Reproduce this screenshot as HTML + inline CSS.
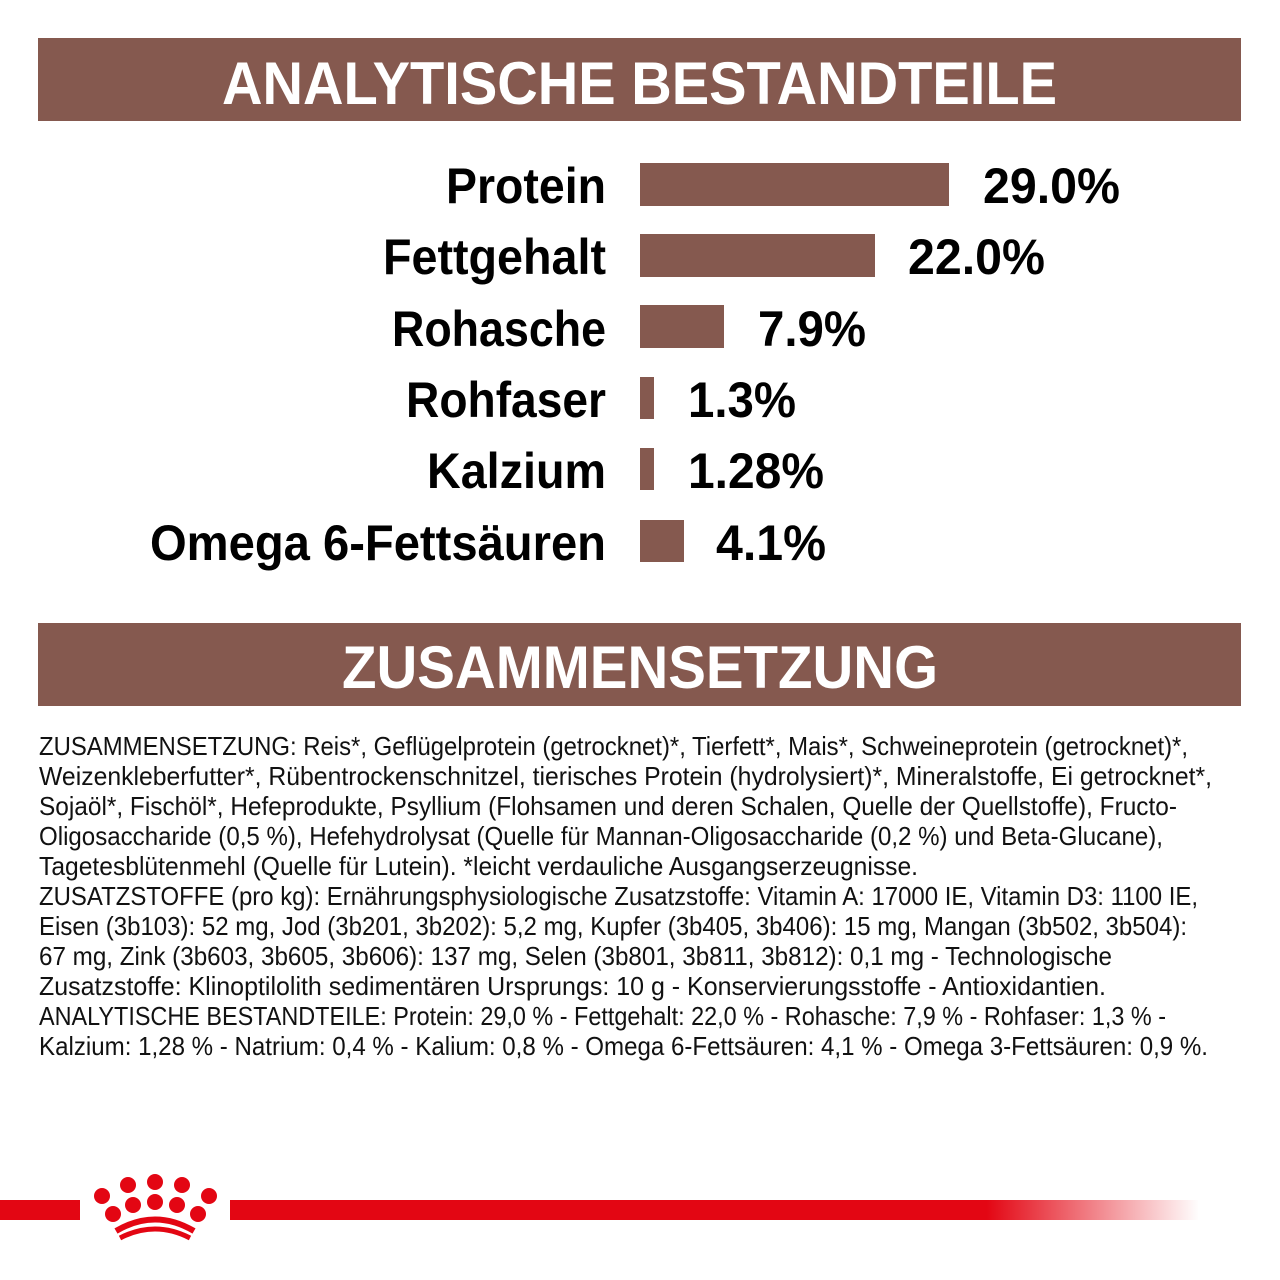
<!DOCTYPE html>
<html><head><meta charset="utf-8"><style>html,body{margin:0;padding:0;background:#fff}svg{display:block}</style></head>
<body>
<svg width="1280" height="1280" viewBox="0 0 1280 1280" xmlns="http://www.w3.org/2000/svg" font-family="Liberation Sans, sans-serif">
<defs><linearGradient id="g" x1="0" x2="1"><stop offset="0" stop-color="#e30613"/><stop offset="0.78" stop-color="#e30613"/><stop offset="1" stop-color="#e30613" stop-opacity="0"/></linearGradient></defs>
<rect x="38" y="38" width="1203" height="83" fill="#85594f"/>
<text x="222" y="104" textLength="835" lengthAdjust="spacingAndGlyphs" font-size="60" font-weight="bold" fill="#fff">ANALYTISCHE BESTANDTEILE</text>
<g fill="#85594f">
<rect x="640" y="163" width="309" height="43"/>
<rect x="640" y="234" width="235" height="43"/>
<rect x="640" y="305" width="84" height="43"/>
<rect x="640" y="377" width="14" height="42"/>
<rect x="640" y="448" width="14" height="42"/>
<rect x="640" y="520" width="44" height="42"/>
</g>
<g font-size="50" font-weight="bold" fill="#000" text-anchor="end">
<text x="606" y="203" textLength="160" lengthAdjust="spacingAndGlyphs">Protein</text>
<text x="606" y="274" textLength="223" lengthAdjust="spacingAndGlyphs">Fettgehalt</text>
<text x="606" y="346" textLength="214" lengthAdjust="spacingAndGlyphs">Rohasche</text>
<text x="606" y="417" textLength="200" lengthAdjust="spacingAndGlyphs">Rohfaser</text>
<text x="606" y="488" textLength="179" lengthAdjust="spacingAndGlyphs">Kalzium</text>
<text x="606" y="560" textLength="456" lengthAdjust="spacingAndGlyphs">Omega 6-Fettsäuren</text>
</g>
<g font-size="50" font-weight="bold" fill="#000">
<text x="983" y="203" textLength="137" lengthAdjust="spacingAndGlyphs">29.0%</text>
<text x="908" y="274" textLength="137" lengthAdjust="spacingAndGlyphs">22.0%</text>
<text x="758" y="346" textLength="108" lengthAdjust="spacingAndGlyphs">7.9%</text>
<text x="688" y="417" textLength="108" lengthAdjust="spacingAndGlyphs">1.3%</text>
<text x="688" y="488" textLength="136" lengthAdjust="spacingAndGlyphs">1.28%</text>
<text x="716" y="560" textLength="110" lengthAdjust="spacingAndGlyphs">4.1%</text>
</g>
<rect x="38" y="623" width="1203" height="83" fill="#85594f"/>
<text x="342" y="688" textLength="596" lengthAdjust="spacingAndGlyphs" font-size="60" font-weight="bold" fill="#fff">ZUSAMMENSETZUNG</text>
<g font-size="26" fill="#111">
<text x="39" y="755" textLength="1149" lengthAdjust="spacingAndGlyphs">ZUSAMMENSETZUNG: Reis*, Geflügelprotein (getrocknet)*, Tierfett*, Mais*, Schweineprotein (getrocknet)*,</text>
<text x="39" y="785" textLength="1173" lengthAdjust="spacingAndGlyphs">Weizenkleberfutter*, Rübentrockenschnitzel, tierisches Protein (hydrolysiert)*, Mineralstoffe, Ei getrocknet*,</text>
<text x="39" y="815" textLength="1138" lengthAdjust="spacingAndGlyphs">Sojaöl*, Fischöl*, Hefeprodukte, Psyllium (Flohsamen und deren Schalen, Quelle der Quellstoffe), Fructo-</text>
<text x="39" y="845" textLength="1124" lengthAdjust="spacingAndGlyphs">Oligosaccharide (0,5 %), Hefehydrolysat (Quelle für Mannan-Oligosaccharide (0,2 %) und Beta-Glucane),</text>
<text x="39" y="875" textLength="879" lengthAdjust="spacingAndGlyphs">Tagetesblütenmehl (Quelle für Lutein). *leicht verdauliche Ausgangserzeugnisse.</text>
<text x="39" y="905" textLength="1159" lengthAdjust="spacingAndGlyphs">ZUSATZSTOFFE (pro kg): Ernährungsphysiologische Zusatzstoffe: Vitamin A: 17000 IE, Vitamin D3: 1100 IE,</text>
<text x="39" y="935" textLength="1148" lengthAdjust="spacingAndGlyphs">Eisen (3b103): 52 mg, Jod (3b201, 3b202): 5,2 mg, Kupfer (3b405, 3b406): 15 mg, Mangan (3b502, 3b504):</text>
<text x="39" y="965" textLength="1073" lengthAdjust="spacingAndGlyphs">67 mg, Zink (3b603, 3b605, 3b606): 137 mg, Selen (3b801, 3b811, 3b812): 0,1 mg - Technologische</text>
<text x="39" y="995" textLength="1067" lengthAdjust="spacingAndGlyphs">Zusatzstoffe: Klinoptilolith sedimentären Ursprungs: 10 g - Konservierungsstoffe - Antioxidantien.</text>
<text x="39" y="1025" textLength="1127" lengthAdjust="spacingAndGlyphs">ANALYTISCHE BESTANDTEILE: Protein: 29,0 % - Fettgehalt: 22,0 % - Rohasche: 7,9 % - Rohfaser: 1,3 % -</text>
<text x="39" y="1055" textLength="1169" lengthAdjust="spacingAndGlyphs">Kalzium: 1,28 % - Natrium: 0,4 % - Kalium: 0,8 % - Omega 6-Fettsäuren: 4,1 % - Omega 3-Fettsäuren: 0,9 %.</text>
</g>
<rect x="0" y="1200" width="80" height="20" fill="#e30613"/>
<rect x="230" y="1200" width="970" height="20" fill="url(#g)"/>
<g fill="#e30613">
<circle cx="102" cy="1196" r="8"/>
<circle cx="128" cy="1185" r="8"/>
<circle cx="155" cy="1182" r="8"/>
<circle cx="182" cy="1185" r="8"/>
<circle cx="209" cy="1196" r="8"/>
<circle cx="113" cy="1214" r="8"/>
<circle cx="133" cy="1205" r="8"/>
<circle cx="155" cy="1202" r="8"/>
<circle cx="177" cy="1205" r="8"/>
<circle cx="198" cy="1214" r="8"/>
</g>
<path d="M116 1231 Q155 1208 194 1231" stroke="#e30613" stroke-width="6" fill="none"/>
<path d="M120 1238 Q155 1220 190 1238" stroke="#e30613" stroke-width="5" fill="none"/>
</svg>
</body></html>
